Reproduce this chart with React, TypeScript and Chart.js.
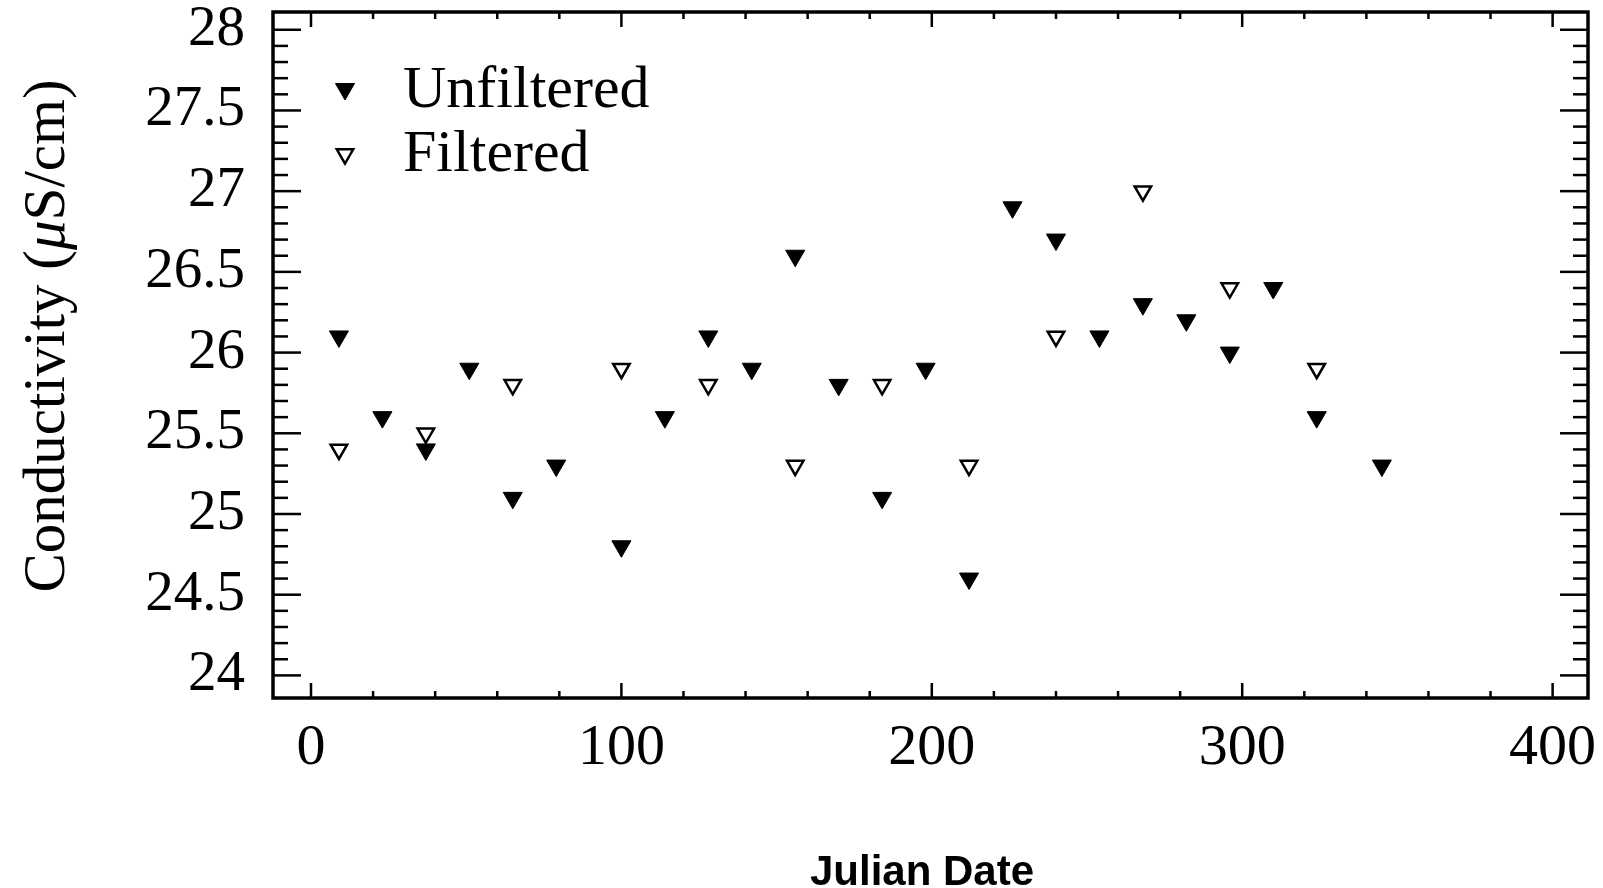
import React, { useEffect, useRef } from 'react';
import { Chart, registerables } from 'chart.js';
import { drawPoint } from 'chart.js/helpers';

Chart.register(...registerables);

// ---- data ----
const unfilteredDays = [9, 23, 37, 51, 65, 79, 100, 114, 128, 142, 156, 170, 184, 198, 212, 226, 240, 254, 268, 282, 296, 310, 324, 345];
const unfilteredValues = [26.1, 25.6, 25.4, 25.9, 25.1, 25.3, 24.8, 25.6, 26.1, 25.9, 26.6, 25.8, 25.1, 25.9, 24.6, 26.9, 26.7, 26.1, 26.3, 26.2, 26.0, 26.4, 25.6, 25.3];
const filteredDays = [9, 37, 65, 100, 128, 156, 184, 212, 240, 268, 296, 324];
const filteredValues = [25.4, 25.5, 25.8, 25.9, 25.8, 25.3, 25.8, 25.3, 26.1, 27.0, 26.4, 25.9];
const seriesNames = ['Unfiltered', 'Filtered'];
const xTickValues = [0, 100, 200, 300, 400];
const yTickValues = [24, 24.5, 25, 25.5, 26, 26.5, 27, 27.5, 28];
const xTitle = 'Julian Date';
const yTitleParts = ['Conductivity (', 'μ', 'S/cm)'];
const yTitleItalic = [false, true, false];

const SERIF = '"Liberation Serif", "Times New Roman", Times, serif';
const SANS = '"Liberation Sans", Arial, Helvetica, sans-serif';

const framePlugin = {
  id: 'frameTicksTitles',
  afterDraw(chart: any) {
    const { ctx, chartArea: a, scales } = chart;
    const xs = scales.x;
    const ys = scales.y;
    ctx.save();
    ctx.strokeStyle = '#000';
    ctx.lineCap = 'butt';
    const line = (x1: number, y1: number, x2: number, y2: number) => {
      ctx.beginPath();
      ctx.moveTo(x1, y1);
      ctx.lineTo(x2, y2);
      ctx.stroke();
    };
    ctx.lineWidth = 2.5;
    for (let i = 0; i <= 20; i++) {
      const v = i * 20;
      const px = xs.getPixelForValue(v);
      const len = i % 5 === 0 ? 15 : 7;
      line(px, a.bottom, px, a.bottom - len);
      line(px, a.top, px, a.top + len);
    }
    for (let i = 0; i <= 40; i++) {
      const v = 24 + i * 0.1;
      const py = ys.getPixelForValue(v);
      const len = i % 5 === 0 ? 28 : 15;
      line(a.left, py, a.left + len, py);
      line(a.right, py, a.right - len, py);
    }
    ctx.lineWidth = 3.5;
    ctx.strokeRect(a.left, a.top, a.right - a.left, a.bottom - a.top);

    // legend inside the plot
    ctx.fillStyle = '#000';
    ctx.font = `60px ${SERIF}`;
    ctx.textAlign = 'left';
    ctx.textBaseline = 'alphabetic';
    const legendRows = [
      { mx: 345, my: 89, ty: 107 },
      { mx: 345, my: 154, ty: 171 },
    ];
    chart.data.datasets.forEach((ds: any, i: number) => {
      const r = legendRows[i];
      ctx.save();
      ctx.fillStyle = ds.pointBackgroundColor;
      ctx.strokeStyle = ds.pointBorderColor;
      ctx.lineWidth = ds.pointBorderWidth;
      drawPoint(ctx, { pointStyle: 'triangle', rotation: 180, radius: ds.pointRadius, borderWidth: ds.pointBorderWidth }, r.mx, r.my);
      ctx.restore();
      ctx.fillStyle = '#000';
      ctx.fillText(ds.label, 403, r.ty);
    });

    // x title
    ctx.font = `bold 42px ${SANS}`;
    ctx.textAlign = 'center';
    ctx.fillText(xTitle, 922, 885);

    // y title (rotated, italic mu)
    ctx.translate(64, 336);
    ctx.rotate(-Math.PI / 2);
    ctx.textAlign = 'left';
    const fonts = yTitleItalic.map((it) => `${it ? 'italic ' : ''}59px ${SERIF}`);
    let total = 0;
    const widths = yTitleParts.map((t, i) => {
      ctx.font = fonts[i];
      const w = ctx.measureText(t).width;
      total += w;
      return w;
    });
    let x = -total / 2;
    yTitleParts.forEach((t, i) => {
      ctx.font = fonts[i];
      ctx.fillText(t, x, 0);
      x += widths[i];
    });
    ctx.restore();
  },
};

export default function App() {
  const ref = useRef<HTMLCanvasElement | null>(null);
  useEffect(() => {
    if (!ref.current) return;
    const chart = new Chart(ref.current, {
      type: 'scatter',
      data: {
        datasets: [
          {
            label: seriesNames[0],
            data: unfilteredDays.map((d, i) => ({ x: d, y: unfilteredValues[i] })),
            pointStyle: 'triangle',
            rotation: 180,
            pointRadius: 11,
            pointBorderWidth: 1,
            pointBackgroundColor: '#000',
            pointBorderColor: '#000',
            showLine: false,
          } as any,
          {
            label: seriesNames[1],
            data: filteredDays.map((d, i) => ({ x: d, y: filteredValues[i] })),
            pointStyle: 'triangle',
            rotation: 180,
            pointRadius: 9.5,
            pointBorderWidth: 2.5,
            pointBackgroundColor: '#fff',
            pointBorderColor: '#000',
            showLine: false,
          } as any,
        ],
      },
      options: {
        responsive: false,
        devicePixelRatio: 1,
        animation: false,
        events: [],
        layout: { padding: { left: 0, right: 15, top: 11, bottom: 0 } },
        plugins: {
          legend: { display: false },
          tooltip: { enabled: false },
        },
        scales: {
          x: {
            type: 'linear',
            position: 'bottom',
            min: -12.24,
            max: 411.4,
            grid: { display: false, drawTicks: false },
            border: { display: false },
            afterBuildTicks: (s: any) => {
              s.ticks = xTickValues.map((v) => ({ value: v }));
            },
            afterFit: (s: any) => {
              s.height = 190;
              s.paddingLeft = 0;
              s.paddingRight = 0;
              s.paddingTop = 0;
              s.paddingBottom = 0;
            },
            ticks: {
              color: '#000',
              padding: 16,
              maxRotation: 0,
              autoSkip: false,
              font: { family: SERIF, size: 58 },
              callback: (v: any) => String(v),
            },
          },
          y: {
            type: 'linear',
            position: 'left',
            min: 23.86,
            max: 28.11,
            grid: { display: false, drawTicks: false },
            border: { display: false },
            afterBuildTicks: (s: any) => {
              s.ticks = yTickValues.map((v) => ({ value: v }));
            },
            afterFit: (s: any) => {
              s.width = 273;
              s.paddingLeft = 0;
              s.paddingRight = 0;
              s.paddingTop = 0;
              s.paddingBottom = 0;
            },
            ticks: {
              color: '#000',
              padding: 28,
              autoSkip: false,
              font: { family: SERIF, size: 57 },
              callback: (v: any) => String(v),
            },
          },
        },
      },
      plugins: [framePlugin],
    } as any);
    return () => chart.destroy();
  }, []);
  return (
    <div style={{ position: 'absolute', left: 0, top: 0, width: 1603, height: 888, background: '#fff' }}>
      <canvas ref={ref} width={1603} height={888} style={{ display: 'block' }} />
    </div>
  );
}
